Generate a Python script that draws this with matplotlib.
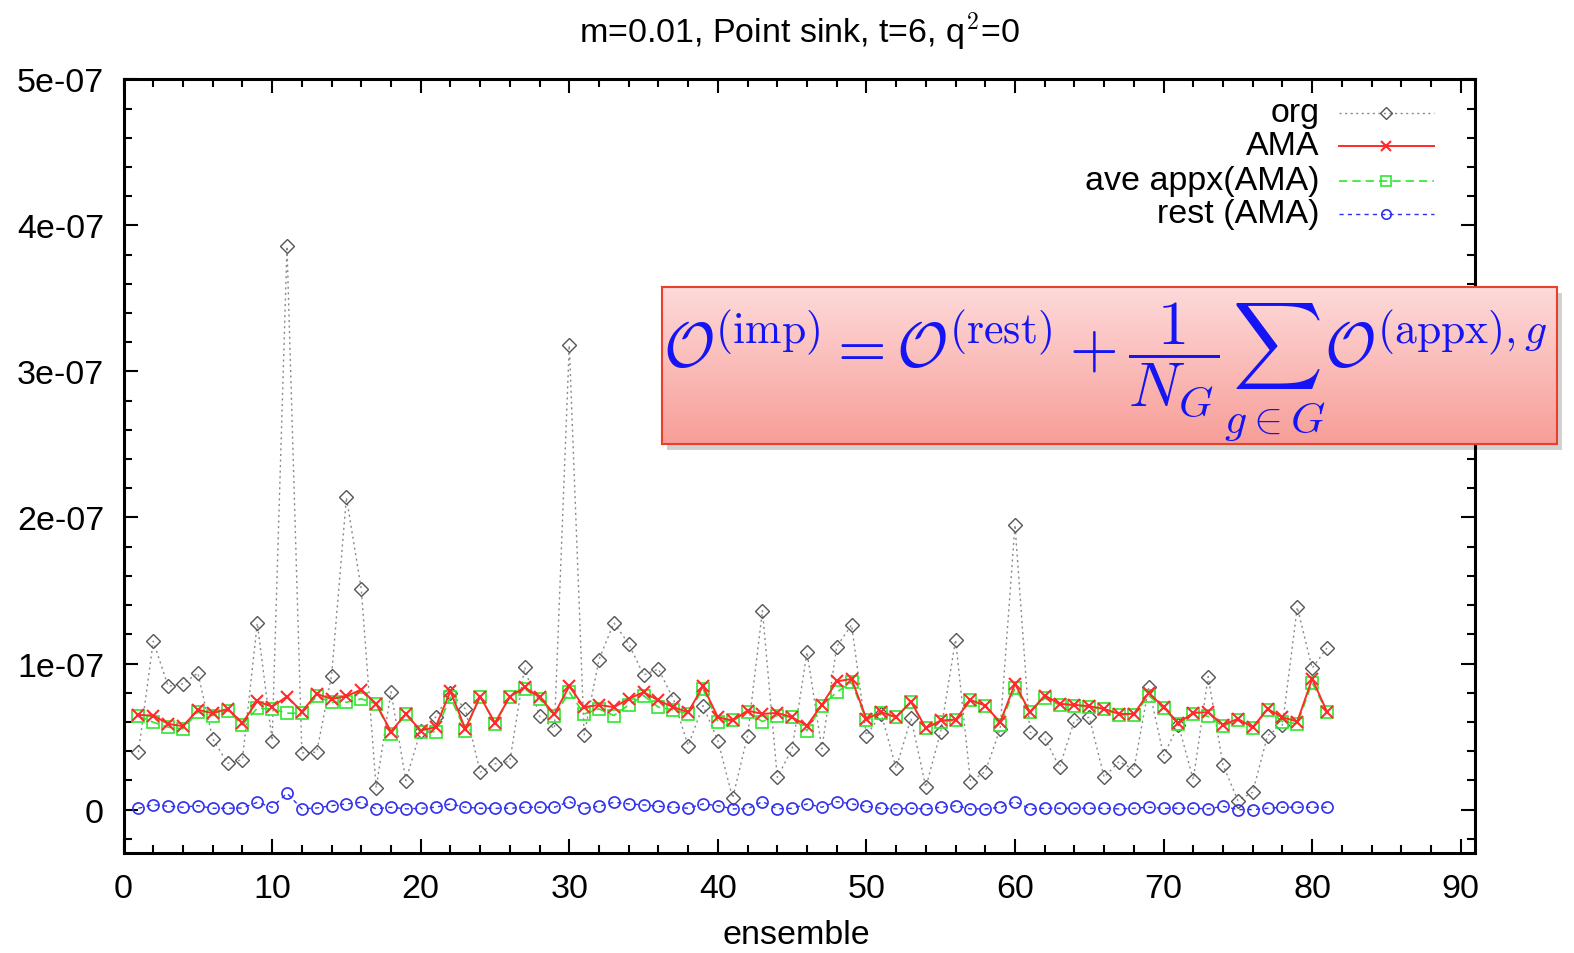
import numpy as np
import matplotlib
matplotlib.use("Agg")
import matplotlib.pyplot as plt
from matplotlib.patches import Rectangle
from matplotlib.ticker import MultipleLocator, FixedLocator, FixedFormatter

# ===========================
# DATA (units of 1e-8)
# ===========================

ensemble = np.arange(1, 82)

org = [3.93, 11.53, 8.45, 8.61, 9.36, 4.84, 3.17, 3.42, 12.76, 4.73,
       38.56, 3.88, 3.93, 9.18, 21.37, 15.1, 1.48, 8.08, 1.99, 5.41,
       6.32, 8.0, 6.89, 2.56, 3.13, 3.31, 9.75, 6.39, 5.53, 31.8,
       5.11, 10.27, 12.79, 11.35, 9.22, 9.63, 7.58, 4.38, 7.12, 4.73,
       0.78, 5.07, 13.63, 2.21, 4.16, 10.78, 4.16, 11.16, 12.65, 5.07,
       6.55, 2.83, 6.26, 1.53, 5.34, 11.64, 1.92, 2.60, 5.53, 19.5,
       5.30, 4.89, 2.90, 6.10, 6.32, 2.21, 3.29, 2.74, 8.38, 3.70,
       5.80, 2.05, 9.11, 3.06, 0.62, 1.19, 5.07, 5.80, 13.86, 9.68,
       11.07]

ama = [6.48, 6.44, 5.87, 5.71, 6.83, 6.60, 6.89, 5.94, 7.42, 7.05,
       7.74, 6.71, 7.92, 7.58, 7.76, 8.22, 7.24, 5.34, 6.55, 5.41,
       5.64, 8.1, 5.53, 7.74, 5.94, 7.74, 8.38, 7.69, 6.55, 8.45,
       7.01, 7.17, 7.01, 7.58, 8.04, 7.47, 7.01, 6.67, 8.45, 6.32,
       6.10, 6.78, 6.55, 6.62, 6.32, 5.75, 7.17, 8.77, 8.95, 6.21,
       6.67, 6.32, 7.40, 5.57, 6.10, 6.16, 7.51, 7.12, 5.98, 8.61,
       6.67, 7.81, 7.24, 7.17, 7.08, 6.89, 6.55, 6.55, 7.99, 7.01,
       5.94, 6.62, 6.67, 5.80, 6.21, 5.64, 6.89, 6.32, 6.03, 8.95,
       6.71]

appx = [6.39, 5.98, 5.64, 5.53, 6.67, 6.44, 6.78, 5.80, 6.94, 6.89,
        6.60, 6.60, 7.76, 7.35, 7.35, 7.58, 7.24, 5.18, 6.55, 5.30,
        5.34, 7.69, 5.41, 7.74, 5.87, 7.74, 8.26, 7.58, 6.44, 8.04,
        6.55, 6.89, 6.44, 7.17, 7.81, 7.01, 6.83, 6.55, 8.26, 6.03,
        6.10, 6.67, 6.03, 6.44, 6.32, 5.41, 7.12, 8.04, 8.72, 6.10,
        6.60, 6.32, 7.35, 5.57, 6.03, 6.10, 7.47, 7.12, 5.80, 8.31,
        6.71, 7.63, 7.17, 7.12, 7.01, 6.89, 6.48, 6.48, 7.81, 6.94,
        5.87, 6.55, 6.39, 5.71, 6.10, 5.57, 6.85, 6.03, 5.87, 8.68,
        6.67]

rest = [0.09, 0.34, 0.23, 0.16, 0.27, 0.09, 0.09, 0.11, 0.50, 0.16,
        1.12, 0.05, 0.11, 0.27, 0.39, 0.50, 0.05, 0.16, 0.05, 0.09,
        0.16, 0.39, 0.16, 0.09, 0.09, 0.09, 0.16, 0.16, 0.16, 0.55,
        0.09, 0.23, 0.50, 0.39, 0.32, 0.23, 0.16, 0.09, 0.39, 0.27,
        0.05, 0.05, 0.55, 0.05, 0.09, 0.39, 0.16, 0.55, 0.39, 0.23,
        0.09, 0.05, 0.09, 0.05, 0.16, 0.27, 0.05, 0.05, 0.16, 0.55,
        0.05, 0.09, 0.09, 0.09, 0.09, 0.09, 0.05, 0.09, 0.16, 0.09,
        0.09, 0.09, 0.05, 0.23, 0.00, 0.00, 0.09, 0.16, 0.16, 0.16,
        0.16]

ytick_vals = [0, 1e-07, 2e-07, 3e-07, 4e-07, 5e-07]
ytick_text = ["0", "1e-07", "2e-07", "3e-07", "4e-07", "5e-07"]
xtick_vals = [0, 10, 20, 30, 40, 50, 60, 70, 80, 90]

series = [
    ("org", org, dict(color="#8a8a8a", ls=(0, (1.5, 2.5)), lw=1.0, marker="D",
                      ms=7, mfc="none", mec="#555555", mew=1.0)),
    ("AMA", ama, dict(color="#ff2a2a", ls="-", lw=1.4, marker="x",
                      ms=9, mew=1.5)),
    ("ave appx(AMA)", appx, dict(color="#2ee82e", ls=(0, (5, 3)), lw=1.2, marker="s",
                                 ms=9, mfc="none", mew=1.2)),
    ("rest (AMA)", rest, dict(color="#3030f0", ls=(0, (3, 3)), lw=1.0, marker="o",
                              ms=8, mfc="none", mew=1.2)),
]

# ===========================
# FIGURE
# ===========================

plt.rcParams["font.family"] = ["Liberation Sans", "DejaVu Sans"]
plt.rcParams["mathtext.fontset"] = "cm"

fig = plt.figure(figsize=(15.74, 9.54), dpi=100)
ax = fig.add_axes([0.0785, 0.1044, 0.8585, 0.8114])

zorders = {"org": 2, "AMA": 4, "ave appx(AMA)": 3, "rest (AMA)": 5}
for name, vals, style in series:
    ax.plot(ensemble, np.array(vals) * 1e-8, zorder=zorders[name], **style)

ax.set_xlim(0, 90.95)
ax.set_ylim(-3e-8, 5e-7)

ax.xaxis.set_major_locator(FixedLocator(xtick_vals))
ax.xaxis.set_minor_locator(MultipleLocator(2))
ax.yaxis.set_major_locator(FixedLocator(ytick_vals))
ax.yaxis.set_major_formatter(FixedFormatter(ytick_text))
ax.yaxis.set_minor_locator(MultipleLocator(2e-8))

ax.tick_params(which="both", direction="in", top=True, right=True, width=1.5)
ax.tick_params(which="major", length=10)
ax.tick_params(which="minor", length=6)
ax.tick_params(axis="x", which="major", labelsize=24.5, pad=14)
ax.tick_params(axis="y", which="major", labelsize=24.5, pad=14)
for sp in ax.spines.values():
    sp.set_linewidth(2.2)

ax.set_title("m=0.01, Point sink, t=6, q$^2$=0", fontsize=24.5, pad=27)
fig.text(0.506, 0.019, "ensemble", fontsize=24.5, ha="center", va="center")

# legend: right aligned text, sample line to the right
leg_y = [0.9571, 0.9144, 0.8690, 0.8261]
for (name, vals, style), yy in zip(series, leg_y):
    ax.text(0.8853, yy, name, transform=ax.transAxes, ha="right", va="center",
            fontsize=24.5)
    st = dict(style)
    ax.plot([0.8995, 0.9697], [yy, yy], transform=ax.transAxes, clip_on=False,
            **{k: v for k, v in st.items() if k not in ("marker", "ms", "mfc", "mec", "mew")})
    ax.plot([0.9346], [yy], transform=ax.transAxes, clip_on=False, ls="none",
            color=st["color"], marker=st["marker"], ms=st["ms"] * 0.85,
            mfc=st.get("mfc", st["color"]), mec=st.get("mec", st["color"]),
            mew=st.get("mew", 1.0))

# ===========================
# FORMULA BOX
# ===========================

box = [0.4206, 0.5335, 0.5686, 0.1646]
shadow = Rectangle((box[0] + 0.003, box[1] - 0.006), box[2], box[3],
                   transform=fig.transFigure, facecolor="#000000", alpha=0.18,
                   edgecolor="none", zorder=8)
fig.patches.append(shadow)

bax = fig.add_axes(box, zorder=10)
top = np.array([253, 218, 218]) / 255.0
bottom = np.array([248, 158, 152]) / 255.0
t = np.linspace(0, 1, 256)[:, None]
grad = (top[None, :] * (1 - t) + bottom[None, :] * t)[:, None, :]
bax.imshow(grad, aspect="auto", extent=[0, 1, 0, 1])
bax.set_xticks([])
bax.set_yticks([])
for sp in bax.spines.values():
    sp.set_color("#e8402a")
    sp.set_linewidth(1.5)

fig.text(0.4212, 0.6153,
         r"$\mathcal{O}^{(\mathrm{imp})} = \mathcal{O}^{(\mathrm{rest})}"
         r" + \dfrac{1}{N_G}\sum_{g\in G}\mathcal{O}^{(\mathrm{appx}),g}$",
         color="#1414f5", fontsize=45, ha="left", va="baseline", zorder=11)

fig.savefig("out.png", dpi=100)
